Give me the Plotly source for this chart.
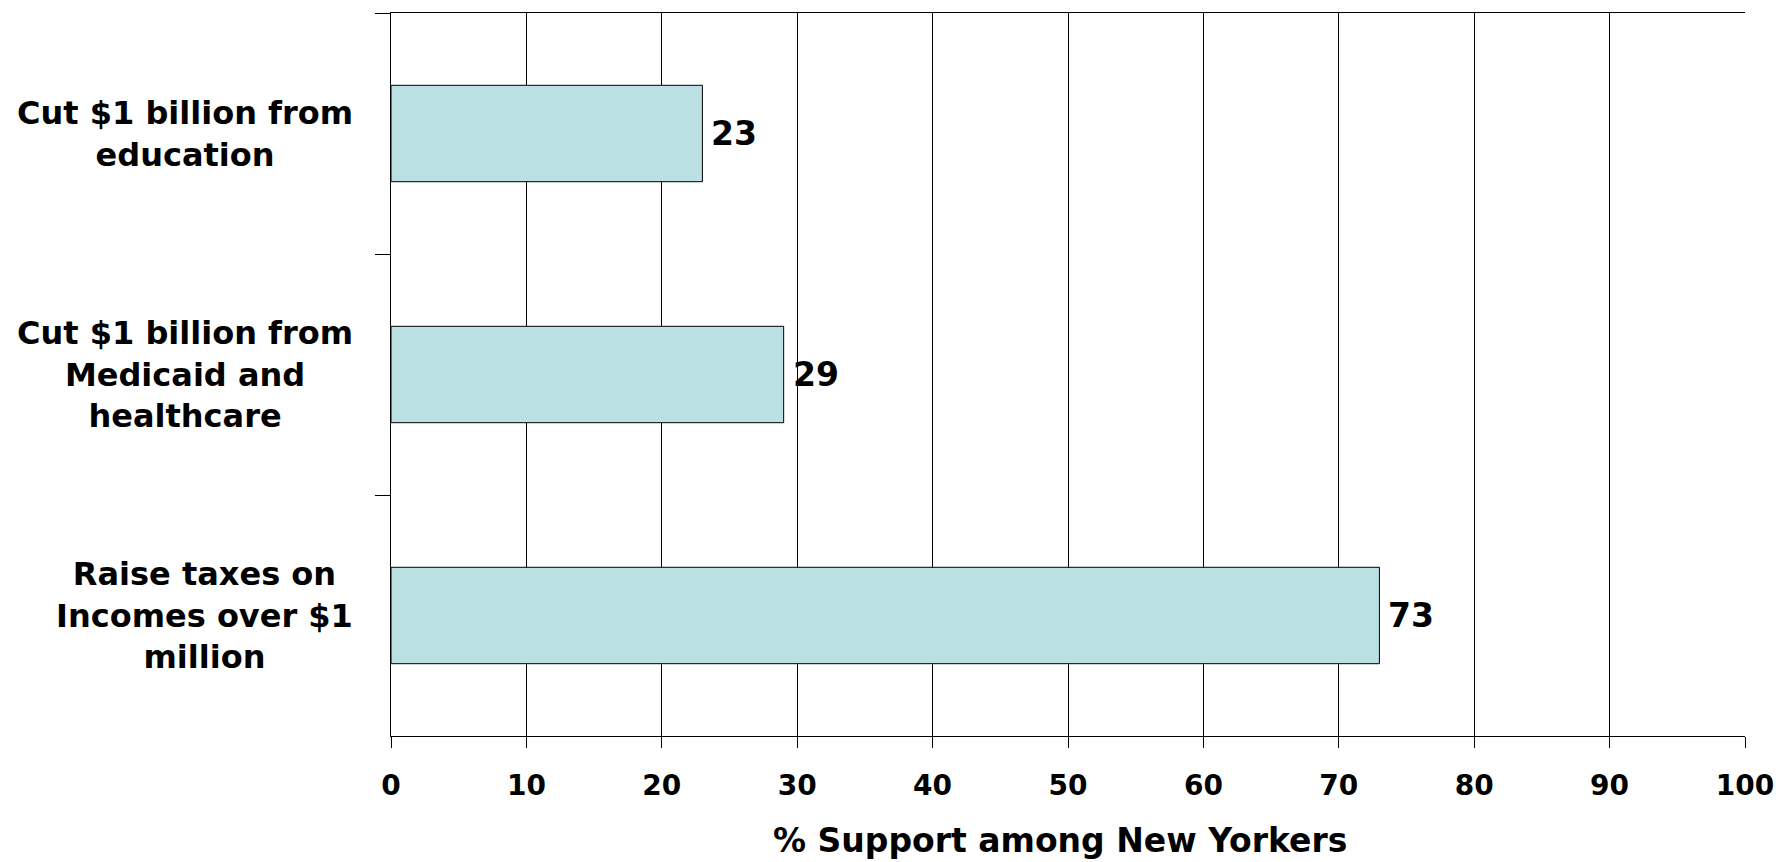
import plotly.graph_objects as go

categories = ["Cut $1 billion from<br>education",
              "Cut $1 billion from<br>Medicaid and<br>healthcare",
              "Raise taxes on<br>Incomes over $1<br>million"]
support = [23, 29, 73]
x_ticks = [0, 10, 20, 30, 40, 50, 60, 70, 80, 90, 100]
x_title = "% Support among New Yorkers"

FONT = "DejaVu Sans"

fig = go.Figure()
fig.add_trace(go.Bar(
    x=support, y=categories, orientation="h",
    marker=dict(color="#BAE0E3", line=dict(color="black", width=1)),
    width=0.4, hoverinfo="skip",
))

# value labels
for cat, val in zip(categories, support):
    fig.add_annotation(x=val, y=cat, xref="x", yref="y", text=str(val),
                       showarrow=False, xanchor="left", yanchor="middle", xshift=7,
                       font=dict(family=FONT, size=33, color="black", weight="bold"))

# category labels (block right-aligned, lines centered)
for cat in categories:
    fig.add_annotation(x=0, y=cat, xref="paper", yref="y", text=cat,
                       showarrow=False, xanchor="right", yanchor="middle", xshift=-36,
                       align="center",
                       font=dict(family=FONT, size=32, color="black", weight="bold"))

# axis title
fig.add_annotation(x=0.494, y=0, xref="paper", yref="paper", text=x_title,
                   showarrow=False, xanchor="center", yanchor="middle", yshift=-104,
                   font=dict(family=FONT, size=33, color="black", weight="bold"))

fig.update_layout(
    width=1786, height=862,
    margin=dict(l=391, r=34, t=13, b=126, pad=0),
    paper_bgcolor="white", plot_bgcolor="white",
    showlegend=False,
    xaxis=dict(range=[0, 100], tickvals=x_ticks, ticktext=[str(v) for v in x_ticks],
               showgrid=True, gridcolor="black", gridwidth=1,
               zeroline=False, showline=True, linecolor="black", linewidth=1,
               mirror=True, ticks="outside", ticklen=11, tickcolor="black",
               tickwidth=1, ticklabelstandoff=13,
               tickfont=dict(family=FONT, size=28, color="black", weight="bold"),
               fixedrange=True),
    yaxis=dict(type="category", categoryorder="array", categoryarray=categories,
               autorange="reversed", showgrid=False, zeroline=False,
               showline=True, linecolor="black", linewidth=1,
               ticks="outside", tickson="boundaries", ticklen=15, tickcolor="black",
               tickwidth=1, showticklabels=False, fixedrange=True),
)

fig.write_html("out.html", config={"displayModeBar": False})
